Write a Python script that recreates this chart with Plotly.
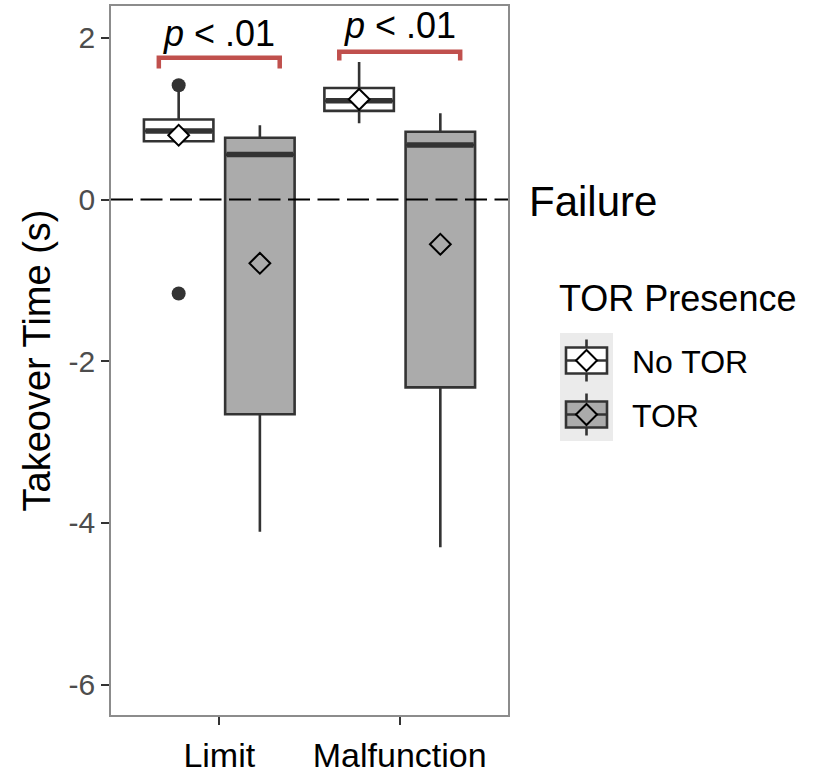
import plotly.graph_objects as go

# ---------------- data ----------------
categories = ["Limit", "Malfunction"]
groups = ["No TOR", "TOR"]
group_fill = {"No TOR": "#FFFFFF", "TOR": "#ABABAB"}

q1 = {"No TOR": [0.72, 1.096], "TOR": [-2.656, -2.323]}
median = {"No TOR": [0.848, 1.22], "TOR": [0.555, 0.674]}
q3 = {"No TOR": [0.99, 1.379], "TOR": [0.764, 0.838]}
lowerfence = {"No TOR": [0.72, 0.942], "TOR": [-4.108, -4.301]}
upperfence = {"No TOR": [1.36, 1.70], "TOR": [0.918, 1.066]}
means = {"No TOR": [0.795, 1.239], "TOR": [-0.789, -0.554]}
outlier_cat = [0, 0]
outlier_grp = ["No TOR", "No TOR"]
outlier_val = [1.413, -1.162]

sig_labels = ["<i>p</i> < .01", "<i>p</i> < .01"]
sig_bracket_top = [1.753, 1.827]
sig_bracket_bottom = [1.62, 1.72]
sig_label_y = [2.05, 2.15]

ref_line_y = 0
ref_label = "Failure"

y_ticks = [-6, -4, -2, 0, 2]
y_ticktext = ["-6", "-4", "-2", "0", "2"]

# ---------------- geometry ----------------
W, H = 813, 776
L, R, T, B = 111, 305, 6, 61
dodge = {"No TOR": -0.225, "TOR": 0.225}
box_w = 0.385
cat_x = [i + 1 for i in range(len(categories))]
dark = "#333333"
FONT = "Liberation Sans, Arial, Helvetica, sans-serif"

fig = go.Figure()

for g in groups:
    xs = [c + dodge[g] for c in cat_x]
    fig.add_trace(go.Box(
        x=xs, q1=q1[g], median=median[g], q3=q3[g],
        lowerfence=lowerfence[g], upperfence=upperfence[g],
        width=box_w, whiskerwidth=0, boxpoints=False,
        fillcolor=group_fill[g], line=dict(color=dark, width=2.6),
        showlegend=False, hoverinfo="skip"))
    # thick median lines
    for xc, m in zip(xs, median[g]):
        fig.add_trace(go.Scatter(
            x=[xc - box_w / 2 + 0.008, xc + box_w / 2 - 0.008], y=[m, m], mode="lines",
            line=dict(color=dark, width=5.5), showlegend=False, hoverinfo="skip"))

# outliers
fig.add_trace(go.Scatter(
    x=[cat_x[c] + dodge[g] for c, g in zip(outlier_cat, outlier_grp)], y=outlier_val,
    mode="markers", marker=dict(symbol="circle", size=14, color=dark),
    showlegend=False, hoverinfo="skip"))

# means
for g in groups:
    fig.add_trace(go.Scatter(
        x=[c + dodge[g] for c in cat_x], y=means[g], mode="markers",
        marker=dict(symbol="diamond", size=16, color=group_fill[g],
                    line=dict(color="black", width=2)),
        showlegend=False, hoverinfo="skip"))

shapes = []
annotations = []

# reference dashed line
shapes.append(dict(type="line", xref="paper", yref="y", x0=0, x1=1,
                   y0=ref_line_y, y1=ref_line_y,
                   line=dict(color="black", width=2.2, dash="22px,7.5px")))

# significance brackets
half = 0.335
for i, c in enumerate(cat_x):
    x0, x1 = c - half, c + half
    yt, yb = sig_bracket_top[i], sig_bracket_bottom[i]
    shapes.append(dict(type="path", xref="x", yref="y",
                       path=f"M {x0},{yb} L {x0},{yt} L {x1},{yt} L {x1},{yb}",
                       line=dict(color="#C0504D", width=4.5)))
    annotations.append(dict(x=c, y=sig_label_y[i], xref="x", yref="y",
                            text=sig_labels[i], showarrow=False,
                            font=dict(size=36, color="black", family=FONT),
                            xanchor="center", yanchor="middle"))

# helpers for pixel -> paper (decorations only)
def px(x):
    return (x - L) / (W - L - R)

def py(y):
    return (H - B - y) / (H - T - B)

annotations.append(dict(x=px(527), y=py(201), xref="paper", yref="paper",
                        text=ref_label, showarrow=False, xanchor="left", yanchor="middle",
                        font=dict(size=42, color="black", family=FONT)))

# ---------------- custom legend ----------------
annotations.append(dict(x=px(557), y=py(298), xref="paper", yref="paper",
                        text="TOR Presence", showarrow=False, xanchor="left", yanchor="middle",
                        font=dict(size=36, color="black", family=FONT)))
key_x0, key_x1 = 560, 613
key_top = 333
key_h = 54
shapes.append(dict(type="rect", xref="paper", yref="paper",
                   x0=px(key_x0), x1=px(key_x1), y0=py(key_top), y1=py(key_top + 2 * key_h),
                   fillcolor="#EBEBEB", line=dict(width=0), layer="below"))
for k, g in enumerate(groups):
    cy = key_top + key_h * k + key_h / 2 + 0.5
    cx = (key_x0 + key_x1) / 2
    shapes.append(dict(type="line", xref="paper", yref="paper",
                       x0=px(cx), x1=px(cx), y0=py(cy - 21), y1=py(cy + 21),
                       line=dict(color=dark, width=2.6)))
    shapes.append(dict(type="rect", xref="paper", yref="paper",
                       x0=px(cx - 20.5), x1=px(cx + 20.5), y0=py(cy - 13), y1=py(cy + 13),
                       fillcolor=group_fill[g], line=dict(color=dark, width=2.6)))
    shapes.append(dict(type="line", xref="paper", yref="paper",
                       x0=px(cx - 20.5), x1=px(cx + 20.5), y0=py(cy), y1=py(cy),
                       line=dict(color=dark, width=2.6)))
    d = 10.5
    shapes.append(dict(type="path", xref="paper", yref="paper",
                       path=(f"M {px(cx - d)},{py(cy)} L {px(cx)},{py(cy - d)} "
                             f"L {px(cx + d)},{py(cy)} L {px(cx)},{py(cy + d)} Z"),
                       fillcolor=group_fill[g], line=dict(color="black", width=2)))
    annotations.append(dict(x=px(630), y=py(cy + 1), xref="paper", yref="paper",
                            text=g, showarrow=False, xanchor="left", yanchor="middle",
                            font=dict(size=32, color="black", family=FONT)))

fig.update_layout(
    width=W, height=H,
    margin=dict(l=L, r=R, t=T, b=B, pad=0),
    paper_bgcolor="white", plot_bgcolor="white",
    font=dict(family=FONT),
    shapes=shapes, annotations=annotations,
    showlegend=False,
    xaxis=dict(range=[0.4, 2.6], tickvals=cat_x, ticktext=categories,
               automargin=False,
               showgrid=False, zeroline=False,
               showline=True, linecolor="#8C8C8C", linewidth=1.5, mirror=True,
               ticks="outside", ticklen=8, tickwidth=2.2, tickcolor=dark,
               ticklabelstandoff=1,
               tickfont=dict(size=34, color="black", family=FONT)),
    yaxis=dict(range=[-6.375, 2.393], tickvals=y_ticks, ticktext=y_ticktext,
               automargin=False,
               showgrid=False, zeroline=False,
               showline=True, linecolor="#8C8C8C", linewidth=1.5, mirror=True,
               ticks="outside", ticklen=8, tickwidth=2.2, tickcolor=dark,
               tickfont=dict(size=30, color="#4D4D4D", family=FONT),
               title=dict(text="Takeover Time (s)", standoff=6,
                          font=dict(size=38, color="black", family=FONT))),
)

fig.write_html("out.html", config={"displayModeBar": False},
               post_script="document.body.style.margin='0';")
